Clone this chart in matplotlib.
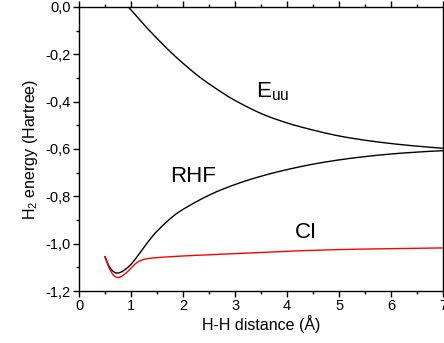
import matplotlib
matplotlib.use("Agg")
import matplotlib.pyplot as plt
from matplotlib.ticker import FuncFormatter, MultipleLocator
import numpy as np

plt.rcParams['font.family'] = ['Liberation Sans', 'DejaVu Sans']
plt.rcParams['mathtext.fontset'] = 'custom'
plt.rcParams['mathtext.rm'] = 'Liberation Sans'
plt.rcParams['mathtext.it'] = 'Liberation Sans:italic'
plt.rcParams['mathtext.bf'] = 'Liberation Sans:bold'

# Euu curve
euu_x = [0.95, 1.25, 1.5, 1.75, 2.0, 2.33, 2.67, 3.0, 3.5, 4.0, 4.5, 5.0, 5.5, 6.0, 6.5, 7.0]
euu_y = [0.0, -0.075, -0.133, -0.188, -0.238, -0.298, -0.35, -0.395, -0.45, -0.49, -0.52, -0.545, -0.563, -0.577, -0.588, -0.597]

# RHF curve
rhf_x = [0.5, 0.55, 0.6, 0.65, 0.72, 0.8, 0.9, 1.0, 1.1, 1.2, 1.3, 1.4, 1.5, 1.75, 2.0, 2.5, 3.0, 3.5, 4.0, 4.5, 5.0, 5.5, 6.0, 6.5, 7.0]
rhf_y = [-1.055, -1.083, -1.103, -1.116, -1.124, -1.121, -1.107, -1.087, -1.06, -1.03, -1.0, -0.972, -0.947, -0.895, -0.855, -0.795, -0.75, -0.715, -0.687, -0.664, -0.646, -0.632, -0.621, -0.613, -0.607]

# CI curve
ci_x = [0.5, 0.55, 0.6, 0.65, 0.7, 0.75, 0.8, 0.9, 1.0, 1.1, 1.2, 1.3, 1.5, 2.0, 3.0, 4.0, 5.0, 6.0, 7.0]
ci_y = [-1.058, -1.088, -1.112, -1.13, -1.14, -1.143, -1.14, -1.125, -1.103, -1.082, -1.07, -1.064, -1.059, -1.052, -1.042, -1.032, -1.025, -1.021, -1.018]

xticks = [0, 1, 2, 3, 4, 5, 6, 7]
yticks = [0.0, -0.2, -0.4, -0.6, -0.8, -1.0, -1.2]

fig = plt.figure(figsize=(4.44, 3.43), dpi=100)
ax = fig.add_axes([0.178, 0.1516, 0.820, 0.828])

def catmull(xs, ys, n=20):
    xs = np.asarray(xs, float); ys = np.asarray(ys, float)
    P = np.column_stack([xs, ys])
    P = np.vstack([P[0], P, P[-1]])
    out = []
    for i in range(1, len(P) - 2):
        p0, p1, p2, p3 = P[i-1], P[i], P[i+1], P[i+2]
        for t in np.linspace(0, 1, n, endpoint=False):
            t2, t3 = t*t, t*t*t
            pt = 0.5*((2*p1) + (-p0+p2)*t + (2*p0-5*p1+4*p2-p3)*t2 + (-p0+3*p1-3*p2+p3)*t3)
            out.append(pt)
    out.append(P[-2])
    out = np.array(out)
    return out[:, 0], out[:, 1]

ax.plot(*catmull(euu_x, euu_y), color='black', lw=1.0)
ax.plot(*catmull(rhf_x, rhf_y), color='black', lw=1.0)
ax.plot(*catmull(ci_x, ci_y), color='red', lw=1.0)

ax.set_xlim(0, 7)
ax.set_ylim(-1.2, 0)
ax.set_xticks(xticks)
ax.set_yticks(yticks)
ax.xaxis.set_minor_locator(MultipleLocator(0.5))
ax.yaxis.set_minor_locator(MultipleLocator(0.1))
ax.yaxis.set_major_formatter(FuncFormatter(lambda v, p: ('%.1f' % v).replace('.', ',').replace('-0,0', '0,0')))
ax.tick_params(which='major', direction='out', length=4, width=1, labelsize=10.5, top=True, right=False, pad=2)
ax.tick_params(which='minor', direction='out', length=2.5, width=1, top=True, right=False)
for s in ax.spines.values():
    s.set_linewidth(1.0)

ax.set_xlabel('H-H distance (\u00c5)', fontsize=11.5, labelpad=1)
ax.set_ylabel('H$_2$ energy (Hartree)', fontsize=11.5, labelpad=4)

ax.text(3.41, -0.38, 'E$_{\\rm uu}$', fontsize=16, ha='left', va='baseline')
ax.text(1.75, -0.739, 'RHF', fontsize=16, ha='left', va='baseline')
ax.text(4.15, -0.976, 'CI', fontsize=16, ha='left', va='baseline')

fig.savefig('out.png', dpi=100)
